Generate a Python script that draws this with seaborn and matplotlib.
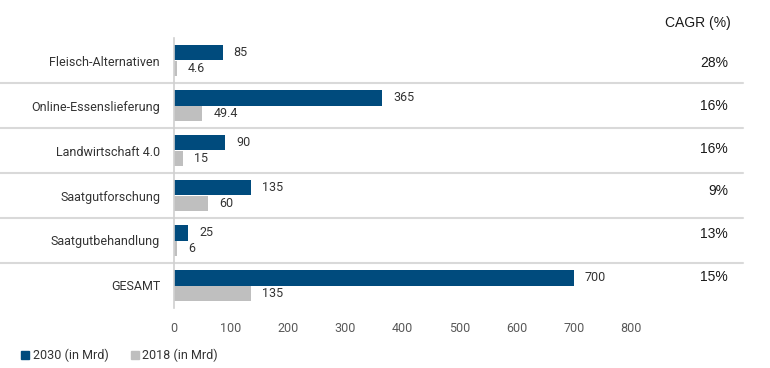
import pandas as pd
import numpy as np
import matplotlib.pyplot as plt
import seaborn as sns
from matplotlib.lines import Line2D

# Daten
kategorien = ['Fleisch-Alternativen', 'Online-Essenslieferung', 'Landwirtschaft 4.0',
              'Saatgutforschung', 'Saatgutbehandlung', 'GESAMT']
werte_2030 = [85, 365, 90, 135, 25, 700]
werte_2018 = [4.6, 49.4, 15, 60, 6, 135]
labels_2030 = ['85', '365', '90', '135', '25', '700']
labels_2018 = ['4.6', '49.4', '15', '60', '6', '135']
cagr = ['28%', '16%', '16%', '9%', '13%', '15%']
serien = ['2030 (in Mrd)', '2018 (in Mrd)']

df = pd.DataFrame({
    'Kategorie': kategorien * 2,
    'Wert': werte_2030 + werte_2018,
    'Serie': [serien[0]] * 6 + [serien[1]] * 6,
})

sns.set_style('white')
plt.rcParams['font.family'] = ['Roboto', 'DejaVu Sans']

blau = '#004b7d'
grau = '#bfbfbf'
text_col = '#333333'

fig = plt.figure(figsize=(7.7, 3.68), dpi=100)
ax = fig.add_axes([174 / 770, 1 - 308 / 368, (743 - 174) / 770, 270 / 368])

sns.barplot(data=df, y='Kategorie', x='Wert', hue='Serie', orient='h',
            palette=[blau, grau], width=0.68, ax=ax, legend=False,
            saturation=1, linewidth=0)

ax.set_ylim(5.5, -0.5)
xmax = (743 - 174) / 57.1 * 100
ax.set_xlim(0, xmax)
ax.set_xticks(range(0, 900, 100))
ax.set_xlabel('')
ax.set_ylabel('')

for s in ['top', 'right', 'bottom']:
    ax.spines[s].set_visible(False)
ax.spines['left'].set_color('#d0d0d0')
ax.spines['left'].set_linewidth(1.2)

ax.tick_params(axis='y', length=0, pad=10, labelsize=9, labelcolor=text_col)
ax.tick_params(axis='x', length=0, pad=10, labelsize=9, labelcolor='#595959')

# Werte-Beschriftungen
for cont, labs in zip(ax.containers, [labels_2030, labels_2018]):
    ax.bar_label(cont, labels=labs, padding=8, fontsize=9, color=text_col)

# Trennlinien
for i in range(5):
    ax.axhline(i + 0.5, xmin=-174 / 569, xmax=1, color='#d9d9d9', lw=1.5, clip_on=False)

# CAGR-Spalte
xr = (728 - 174) / 569
ax.text((731 - 174) / 569, 1.03, 'CAGR (%)', transform=ax.transAxes, ha='right', va='bottom',
        fontsize=10, family=['Liberation Sans', 'DejaVu Sans'], color='#1a1a1a')
for i, c in enumerate(cagr):
    ax.text(xr, 0.06 + 0.95 * i, c, transform=ax.get_yaxis_transform(), ha='right', va='center',
            fontsize=10, family=['Liberation Sans', 'DejaVu Sans'], color='#1a1a1a')

# Legende
handles = [Line2D([], [], marker='s', ls='', color=blau, markersize=6),
           Line2D([], [], marker='s', ls='', color=grau, markersize=6)]
fig.legend(handles, serien, loc='lower left', bbox_to_anchor=(0.01, -0.015), ncol=2, frameon=False,
           fontsize=9, labelcolor=text_col, handletextpad=0.1, columnspacing=1.6, handlelength=1)

fig.savefig('out.png', dpi=100)
